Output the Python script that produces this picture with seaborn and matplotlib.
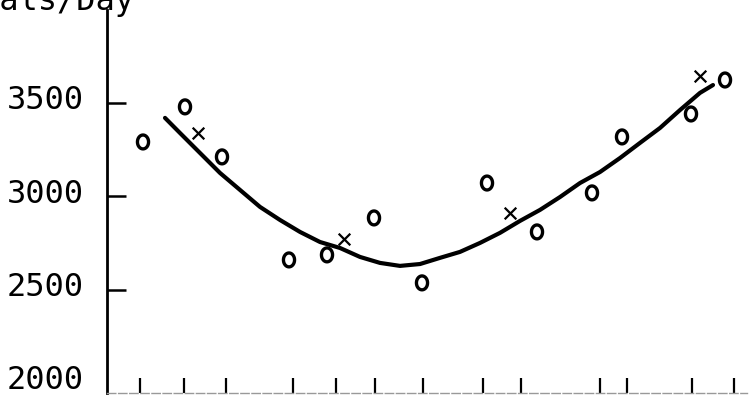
import matplotlib
matplotlib.use("Agg")
import matplotlib.pyplot as plt
from matplotlib.path import Path
from matplotlib.transforms import ScaledTranslation
import numpy as np
import pandas as pd
import seaborn as sns

# data (x in arbitrary time units)
obs_x = [3.6, 7.8, 11.5, 18.2, 22.0, 26.7, 31.5, 38.0, 43.0, 48.5, 51.5, 58.4, 61.8]
obs_y = [3291, 3479, 3211, 2659, 2686, 2884, 2536, 3071, 2809, 3018, 3318, 3441, 3623]
cross_x = [9.1, 23.7, 40.3, 59.3]
cross_y = [3339, 2771, 2911, 3645]
fit_x = [5.8, 7.3, 9.3, 11.3, 13.3, 15.3, 17.3, 19.3, 21.3, 23.3, 25.3, 27.3,
         29.3, 31.3, 33.3, 35.3, 37.3, 39.3, 41.3, 43.3, 45.3, 47.3, 49.3,
         51.3, 53.3, 55.3, 57.3, 59.3, 60.6]
fit_y = [3420, 3339, 3232, 3125, 3034, 2943, 2873, 2809, 2755, 2723, 2675, 2643,
         2627, 2637, 2670, 2702, 2750, 2804, 2868, 2927, 2996, 3071, 3130,
         3205, 3286, 3366, 3462, 3554, 3596]
xticks = [3.3, 7.7, 11.9, 18.6, 22.9, 26.8, 31.6, 37.6, 41.4, 49.3, 52.0, 58.5, 62.7]
yticks = [2000, 2500, 3000, 3500]

sns.set_style("white")
plt.rcParams["font.family"] = ["DejaVu Sans Mono"]
plt.rcParams["text.color"] = "black"
plt.rcParams["ytick.color"] = "black"
plt.rcParams["xtick.color"] = "black"

# hand drawn "o" is a slightly tall oval
t = np.linspace(0, 2 * np.pi, 40)
oval = Path(np.column_stack([0.8 * np.cos(t), np.sin(t)]), closed=True)

fig = plt.figure(figsize=(7.51, 3.95), dpi=100)
ax = fig.add_axes([107 / 751, 2 / 395, 640 / 751, 383 / 395])

fit = pd.DataFrame({"x": fit_x, "y": fit_y})
sns.lineplot(data=fit, x="x", y="y", ax=ax, color="black", lw=3, sort=False)
sns.scatterplot(x=obs_x, y=obs_y, ax=ax, marker=oval, s=100, facecolors="none",
                edgecolor="black", linewidth=2.4)
sns.scatterplot(x=cross_x, y=cross_y, ax=ax, marker="x", s=70, color="black",
                linewidth=1.6)

ax.set_xlim(0, 64)
ax.set_ylim(1946, 3998)
ax.set_xticks(xticks)
ax.set_xticklabels([])
ax.set_yticks(yticks)
ax.set_yticklabels([str(v) for v in yticks], fontsize=23)
ax.tick_params(axis="y", direction="in", length=14, width=1.8, pad=17, left=True)
ax.tick_params(axis="x", direction="in", length=11, width=1.6, bottom=True)
ax.set_xlabel("")
ax.set_ylabel("")

# labels sit a little above their ticks, no tick drawn at 2000
shift = ScaledTranslation(0, 4 / 72, fig.dpi_scale_trans)
for lab in ax.get_yticklabels():
    lab.set_transform(lab.get_transform() + shift)
ax.yaxis.get_major_ticks()[0].tick1line.set_visible(False)

for s in ["top", "right"]:
    ax.spines[s].set_visible(False)
ax.spines["left"].set_linewidth(2)
ax.spines["left"].set_color("black")
ax.spines["bottom"].set_linewidth(1)
ax.spines["bottom"].set_color("#999999")
ax.spines["bottom"].set_linestyle((0, (6, 2)))

fig.text(135 / 751, 1 - 10 / 395, "Cals/Day", ha="right", va="baseline",
         fontsize=23)

fig.savefig("out.png", dpi=100)
